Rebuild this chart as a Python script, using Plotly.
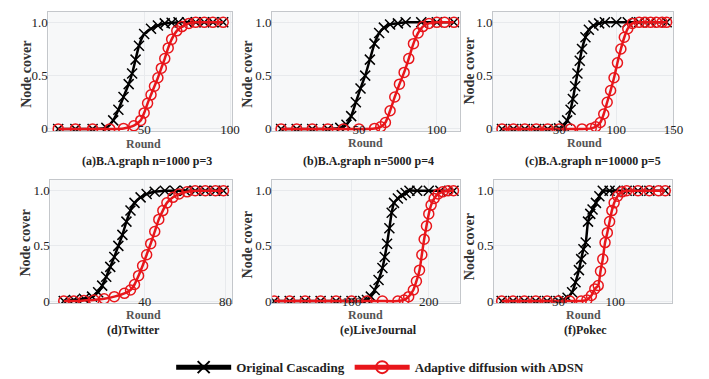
import plotly.graph_objects as go

W, H = 709, 379

# ---------------- data ----------------
a_rounds_orig = [0, 10, 20, 28, 32, 35, 38, 41, 43, 45, 47, 50, 54, 58, 62, 66, 70, 75, 80, 85, 90, 96]
a_cover_orig = [0, 0, 0, 0.01, 0.08, 0.18, 0.3, 0.42, 0.52, 0.65, 0.78, 0.89, 0.94, 0.97, 0.99, 0.995, 1, 1, 1, 1, 1, 1]
a_rounds_adsn = [0, 10, 20, 30, 38, 44, 48, 50, 52, 54, 56, 58, 60, 62, 64, 66, 69, 72, 76, 80, 85, 90, 96]
a_cover_adsn = [0, 0, 0, 0, 0.005, 0.03, 0.08, 0.15, 0.24, 0.32, 0.4, 0.48, 0.57, 0.66, 0.76, 0.84, 0.92, 0.96, 0.99, 1, 1, 1, 1]

b_rounds_orig = [0, 10, 20, 30, 38, 42, 45, 48, 51, 54, 57, 60, 63, 66, 70, 75, 80, 90, 100, 111]
b_cover_orig = [0, 0, 0, 0, 0.01, 0.04, 0.12, 0.25, 0.38, 0.5, 0.65, 0.8, 0.9, 0.95, 0.98, 0.99, 1, 1, 1, 1]
b_rounds_adsn = [0, 10, 20, 30, 40, 50, 60, 64, 67, 70, 73, 76, 79, 82, 85, 88, 91, 95, 100, 105, 111]
b_cover_adsn = [0, 0, 0, 0, 0, 0, 0.005, 0.02, 0.06, 0.17, 0.3, 0.42, 0.53, 0.66, 0.8, 0.9, 0.96, 0.99, 1, 1, 1]

c_rounds_orig = [0, 10, 20, 30, 40, 50, 54, 57, 60, 62, 64, 66, 68, 70, 73, 76, 80, 85, 90, 100, 110, 120, 130, 144]
c_cover_orig = [0, 0, 0, 0, 0, 0.005, 0.03, 0.08, 0.18, 0.28, 0.4, 0.52, 0.64, 0.75, 0.86, 0.93, 0.97, 0.99, 1, 1, 1, 1, 1, 1]
c_rounds_adsn = [0, 10, 20, 30, 40, 50, 60, 70, 78, 82, 86, 89, 92, 95, 98, 101, 104, 107, 110, 114, 120, 125, 130, 135, 140, 144]
c_cover_adsn = [0, 0, 0, 0, 0, 0, 0, 0, 0.005, 0.02, 0.06, 0.14, 0.25, 0.36, 0.48, 0.62, 0.75, 0.86, 0.94, 0.99, 1, 1, 1, 1, 1, 1]

d_rounds_orig = [0, 5, 10, 14, 17, 19, 21, 23, 25, 27, 29, 31, 33, 35, 38, 41, 45, 50, 55, 60, 65, 70, 75, 79]
d_cover_orig = [0, 0.01, 0.02, 0.04, 0.08, 0.14, 0.22, 0.31, 0.4, 0.5, 0.6, 0.72, 0.82, 0.89, 0.94, 0.97, 0.99, 1, 1, 1, 1, 1, 1, 1]
d_rounds_adsn = [0, 5, 10, 15, 20, 25, 30, 33, 35, 37, 39, 41, 43, 45, 47, 49, 51, 54, 57, 61, 65, 70, 75, 79]
d_cover_adsn = [0, 0, 0.005, 0.01, 0.02, 0.04, 0.07, 0.1, 0.15, 0.23, 0.32, 0.42, 0.52, 0.63, 0.74, 0.82, 0.89, 0.94, 0.97, 0.99, 1, 1, 1, 1]

e_rounds_orig = [0, 20, 40, 60, 80, 100, 115, 120, 125, 130, 135, 140, 143, 146, 149, 152, 155, 160, 165, 170, 175, 185, 200, 215, 232]
e_cover_orig = [0, 0, 0, 0, 0, 0, 0, 0.01, 0.04, 0.1, 0.19, 0.3, 0.4, 0.52, 0.66, 0.8, 0.89, 0.93, 0.96, 0.98, 1, 1, 1, 1, 1]
e_rounds_adsn = [0, 20, 40, 60, 80, 100, 120, 140, 160, 168, 174, 180, 184, 188, 191, 194, 197, 200, 203, 207, 212, 218, 225, 232]
e_cover_adsn = [0, 0, 0, 0, 0, 0, 0, 0, 0, 0.01, 0.04, 0.1, 0.18, 0.28, 0.42, 0.56, 0.68, 0.79, 0.87, 0.93, 0.97, 0.99, 1, 1]

f_rounds_orig = [0, 10, 20, 30, 40, 50, 54, 58, 62, 65, 68, 70, 72, 74, 76, 78, 80, 83, 86, 89, 95, 100, 110, 120, 130, 144]
f_cover_orig = [0, 0, 0, 0, 0, 0, 0.01, 0.03, 0.08, 0.17, 0.28, 0.38, 0.47, 0.53, 0.72, 0.79, 0.83, 0.89, 0.95, 1, 1, 1, 1, 1, 1, 1]
f_rounds_adsn = [0, 10, 20, 30, 40, 50, 60, 70, 75, 79, 82, 85, 87, 89, 91, 93, 95, 97, 99, 102, 106, 110, 120, 130, 138, 144]
f_cover_adsn = [0, 0, 0, 0, 0, 0, 0, 0, 0.01, 0.05, 0.11, 0.14, 0.27, 0.38, 0.53, 0.62, 0.72, 0.82, 0.89, 0.95, 0.99, 1, 1, 1, 1, 1]

captions = ["(a)B.A.graph n=1000 p=3", "(b)B.A.graph n=5000 p=4", "(c)B.A.graph n=10000 p=5",
            "(d)Twitter", "(e)LiveJournal", "(f)Pokec"]
x_ticks = [[50, 100], [50, 100], [50, 100, 150], [40, 80], [100, 200], [50, 100, 150]]
y_ticks = [0, 0.5, 1.0]
y_tick_labels = ["0", "0.5", "1.0"]
series_names = ["Original Cascading", "Adaptive diffusion with ADSN"]

# ---------------- layout (pixel geometry) ----------------
panels = [
    dict(rx=(a_rounds_orig, a_rounds_adsn), ry=(a_cover_orig, a_cover_adsn), px=(41, 227), xr=(-5.7, 101)),
    dict(rx=(b_rounds_orig, b_rounds_adsn), ry=(b_cover_orig, b_cover_adsn), px=(268, 458), xr=(-5.7, 114.6)),
    dict(rx=(c_rounds_orig, c_rounds_adsn), ry=(c_cover_orig, c_cover_adsn), px=(492, 675), xr=(-7.8, 150)),
    dict(rx=(d_rounds_orig, d_rounds_adsn), ry=(d_cover_orig, d_cover_adsn), px=(43, 227), xr=(-6.6, 83.1)),
    dict(rx=(e_rounds_orig, e_rounds_adsn), ry=(e_cover_orig, e_cover_adsn), px=(268, 458), xr=(-2.6, 239.8)),
    dict(rx=(f_rounds_orig, f_rounds_adsn), ry=(f_cover_orig, f_cover_adsn), px=(493, 673), xr=(-6.7, 149.5)),
]
rows_py = [(3.7, 124.7), (174.0, 299.2)]
yr = (-0.02, 1.1)

serif = "Liberation Serif"
colors = ["#000000", "#e8161b"]
symbols = ["x-thin-open", "circle-open"]

fig = go.Figure()
layout = dict(
    width=W, height=H, margin=dict(l=0, r=0, t=0, b=0),
    paper_bgcolor="white", plot_bgcolor="#f7f8f9",
    font=dict(family=serif, size=13, color="#222"),
    showlegend=True,
    legend=dict(orientation="h", x=0.5 + 23 / W, xanchor="center", y=1 - 364 / H, yanchor="middle",
                font=dict(family=serif, size=13, color="#222", weight="bold"), itemwidth=55,
                bgcolor="rgba(0,0,0,0)", tracegroupgap=0, itemsizing="constant"),
)
annotations = []

cap_pos = [(141, 155), (366, 155), (593, 155), (127, 326), (376, 326), (586, 326)]
round_pos = [(137, 138), (363, 137), (585, 137), (137, 311), (363, 311), (584, 311)]
node_pos = [(18, 67), (243, 67), (468, 64), (18, 238), (243, 240), (468, 242)]

for i, p in enumerate(panels):
    k = "" if i == 0 else str(i + 1)
    row = 0 if i < 3 else 1
    top, bot = rows_py[row]
    xd = [p["px"][0] / W, p["px"][1] / W]
    yd = [1 - bot / H, 1 - top / H]
    common = dict(showgrid=True, gridcolor="#e8eaed", gridwidth=1, zeroline=False,
                  showline=True, linecolor="#c4c7cb", linewidth=1, mirror=True, ticks="",
                  tickfont=dict(family=serif, size=13, color="#222"))
    layout["xaxis" + k] = dict(domain=xd, range=list(p["xr"]), anchor="y" + k,
                               tickvals=x_ticks[i], ticklabelstandoff=-14, **common)
    layout["yaxis" + k] = dict(domain=yd, range=list(yr), anchor="x" + k,
                               tickvals=y_ticks, ticktext=y_tick_labels, ticklabelstandoff=-3, **common)
    for s in range(2):
        fig.add_trace(go.Scatter(
            x=p["rx"][s], y=p["ry"][s], xaxis="x" + k, yaxis="y" + k,
            mode="lines+markers", showlegend=False,
            line=dict(color=colors[s], width=2.5, shape="spline", smoothing=0.6),
            marker=dict(symbol=symbols[s], size=10, color=colors[s], line=dict(width=1.5, color=colors[s])),
        ))
    annotations.append(dict(text=captions[i], x=cap_pos[i][0] / W, y=1 - cap_pos[i][1] / H,
                            xref="paper", yref="paper", showarrow=False, xanchor="center", yanchor="middle",
                            font=dict(family=serif, size=12, color="#222", weight="bold")))
    annotations.append(dict(text="Round", x=round_pos[i][0] / W, y=1 - round_pos[i][1] / H,
                            xref="paper", yref="paper", showarrow=False, xanchor="center", yanchor="middle",
                            font=dict(family=serif, size=12, color="#555", weight="bold")))
    annotations.append(dict(text="Node cover", x=node_pos[i][0] / W, y=1 - node_pos[i][1] / H,
                            xref="paper", yref="paper", showarrow=False, xanchor="center", yanchor="middle",
                            textangle=-90, font=dict(family=serif, size=14, color="#333", weight="bold")))

# legend-only traces
for s in range(2):
    fig.add_trace(go.Scatter(
        x=[None], y=[None], mode="lines+markers", name=series_names[s],
        line=dict(color=colors[s], width=5),
        marker=dict(symbol=symbols[s], size=13, color=colors[s], line=dict(width=3, color=colors[s])),
        showlegend=True,
    ))

layout["annotations"] = annotations
fig.update_layout(**layout)
fig.write_html("out.html")
